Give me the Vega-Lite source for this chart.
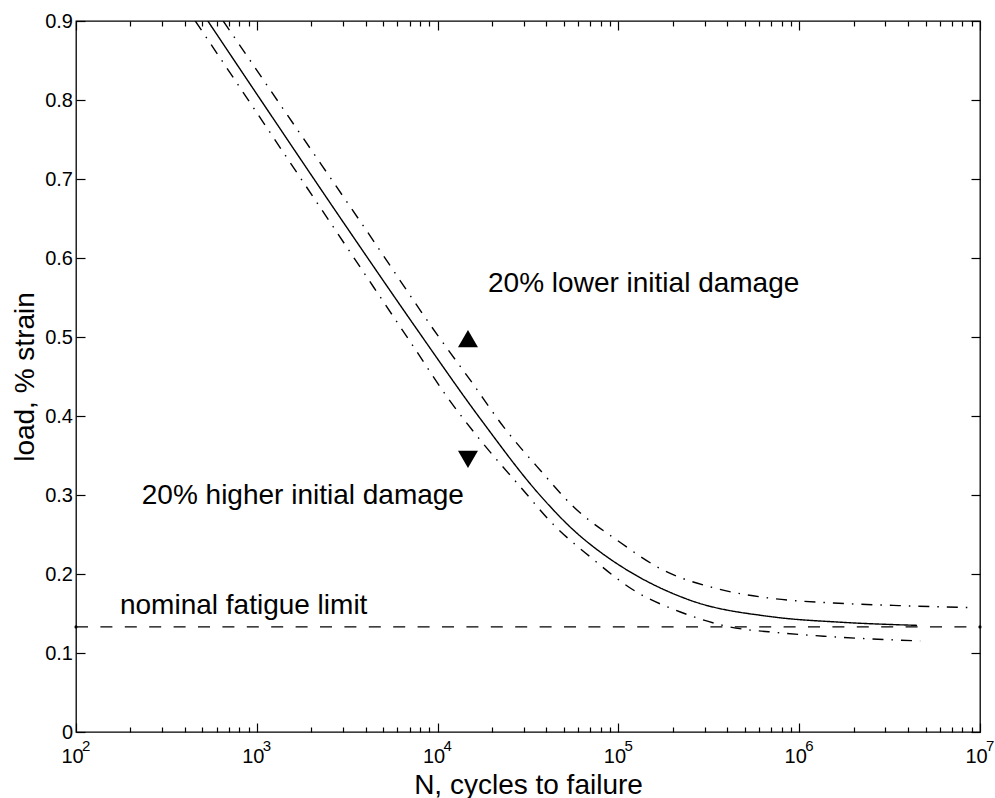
{
  "$schema": "https://vega.github.io/schema/vega-lite/v6.json",
  "width": 904,
  "height": 711,
  "autosize": "none",
  "padding": {"left": 76, "top": 21, "right": 15, "bottom": 66},
  "background": "white",
  "config": {
    "view": {"stroke": "black", "strokeWidth": 1.3},
    "font": "Liberation Sans",
    "axis": {
      "grid": false,
      "domain": false,
      "tickColor": "black",
      "tickWidth": 1.2,
      "labelColor": "black",
      "titleColor": "black",
      "labelFont": "Liberation Sans",
      "titleFont": "Liberation Sans",
      "labelFontSize": 20,
      "titleFontSize": 28,
      "titleFontWeight": "normal",
      "labelOverlap": false,
      "labelFlush": false,
      "labelBound": false
    }
  },
  "datasets": {
    "curves": [
      {"series": "nominal", "N": 536, "load": 0.9},
      {"series": "nominal", "N": 1052, "load": 0.8},
      {"series": "nominal", "N": 3162, "load": 0.638},
      {"series": "nominal", "N": 7727, "load": 0.509},
      {"series": "nominal", "N": 17298, "load": 0.396},
      {"series": "nominal", "N": 37068, "load": 0.299},
      {"series": "nominal", "N": 56624, "load": 0.2553},
      {"series": "nominal", "N": 86696, "load": 0.2215},
      {"series": "nominal", "N": 111686, "load": 0.205},
      {"series": "nominal", "N": 250035, "load": 0.1667},
      {"series": "nominal", "N": 721107, "load": 0.1456},
      {"series": "nominal", "N": 1686553, "load": 0.139},
      {"series": "nominal", "N": 4487454, "load": 0.135},
      {"series": "lower", "N": 652, "load": 0.9},
      {"series": "lower", "N": 1416, "load": 0.787},
      {"series": "lower", "N": 3981, "load": 0.637},
      {"series": "lower", "N": 10162, "load": 0.5},
      {"series": "lower", "N": 15205, "load": 0.445},
      {"series": "lower", "N": 23227, "load": 0.386},
      {"series": "lower", "N": 37068, "load": 0.331},
      {"series": "lower", "N": 56624, "load": 0.2848},
      {"series": "lower", "N": 98401, "load": 0.2427},
      {"series": "lower", "N": 177828, "load": 0.2047},
      {"series": "lower", "N": 350752, "load": 0.1815},
      {"series": "lower", "N": 721107, "load": 0.1689},
      {"series": "lower", "N": 1548817, "load": 0.1633},
      {"series": "lower", "N": 3548134, "load": 0.16},
      {"series": "lower", "N": 8810489, "load": 0.1575},
      {"series": "higher", "N": 457, "load": 0.9},
      {"series": "higher", "N": 966, "load": 0.789},
      {"series": "higher", "N": 3162, "load": 0.613},
      {"series": "higher", "N": 7396, "load": 0.487},
      {"series": "higher", "N": 11298, "load": 0.424},
      {"series": "higher", "N": 17298, "load": 0.369},
      {"series": "higher", "N": 28774, "load": 0.31},
      {"series": "higher", "N": 43954, "load": 0.262},
      {"series": "higher", "N": 69984, "load": 0.2215},
      {"series": "higher", "N": 121619, "load": 0.1794},
      {"series": "higher", "N": 220293, "load": 0.1519},
      {"series": "higher", "N": 398107, "load": 0.1338},
      {"series": "higher", "N": 785236, "load": 0.1255},
      {"series": "higher", "N": 1422329, "load": 0.121},
      {"series": "higher", "N": 4666594, "load": 0.1152}
    ],
    "limit": [{"N": 100, "N2": 10000000, "load": 0.133}],
    "limitEnds": [{"N": 100, "load": 0.133}, {"N": 10000000, "load": 0.133}],
    "arrows": [
      {"N": 14723, "load": 0.498, "dir": "up"},
      {"N": 14723, "load": 0.345, "dir": "down"}
    ],
    "labels": [
      {"N": 19011, "load": 0.557, "text": "20% lower initial damage"},
      {"N": 231, "load": 0.289, "text": "20% higher initial damage"},
      {"N": 175, "load": 0.1499, "text": "nominal fatigue limit"}
    ],
    "exponents": [
      {"N": 100, "load": 0, "exp": "2"},
      {"N": 1000, "load": 0, "exp": "3"},
      {"N": 10000, "load": 0, "exp": "4"},
      {"N": 100000, "load": 0, "exp": "5"},
      {"N": 1000000, "load": 0, "exp": "6"},
      {"N": 10000000, "load": 0, "exp": "7"}
    ]
  },
  "layer": [
    {
      "data": {"name": "curves"},
      "mark": {"type": "line", "color": "black", "strokeWidth": 1.4, "interpolate": "monotone", "clip": true},
      "encoding": {
        "x": {
          "field": "N", "type": "quantitative",
          "scale": {"type": "log", "domain": [100, 10000000], "nice": false},
          "axis": {
            "orient": "bottom",
            "title": "N, cycles to failure",
            "values": [100,200,300,400,500,600,700,800,900,1000,2000,3000,4000,5000,6000,7000,8000,9000,10000,20000,30000,40000,50000,60000,70000,80000,90000,100000,200000,300000,400000,500000,600000,700000,800000,900000,1000000,2000000,3000000,4000000,5000000,6000000,7000000,8000000,9000000,10000000],
            "labelExpr": "indexof([100,1000,10000,100000,1000000,10000000], datum.value) >= 0 ? '10' : ''",
            "tickSize": {"condition": {"test": "indexof([100,1000,10000,100000,1000000,10000000], datum.value) >= 0", "value": -9}, "value": -5},
            "labelFontSize": 20,
            "labelPadding": 23,
            "labelOffset": -4,
            "titleFontSize": 28,
            "titlePadding": 1,
            "encode": {"labels": {"update": {"fontSize": {"value": 20}}}}
          }
        },
        "y": {
          "field": "load", "type": "quantitative",
          "scale": {"domain": [0, 0.9], "nice": false, "zero": false},
          "axis": {
            "orient": "left",
            "title": "load, % strain",
            "values": [0,0.1,0.2,0.3,0.4,0.5,0.6,0.7,0.8,0.9],
            "labelExpr": "datum.value == 0 ? '0' : format(datum.value, '.1f')",
            "tickSize": -9,
            "labelFontSize": 20,
            "labelPadding": 12.5,
            "titleFontSize": 28,
            "titlePadding": 5,
            "encode": {"labels": {"update": {"fontSize": {"value": 20}}}}
          }
        },
        "detail": {"field": "series"},
        "strokeDash": {
          "field": "series", "type": "nominal",
          "scale": {"domain": ["nominal", "lower", "higher"], "range": [[1, 0], [11, 8, 1.5, 8], [11, 8, 1.5, 8]]},
          "legend": null
        }
      }
    },
    {
      "data": {"name": "limit"},
      "mark": {"type": "rule", "color": "black", "strokeWidth": 1.3, "strokeDash": [12, 12.4]},
      "encoding": {
        "x": {"field": "N", "type": "quantitative", "scale": {"type": "log", "domain": [100, 10000000], "nice": false}, "axis": null},
        "x2": {"field": "N2"},
        "y": {"field": "load", "type": "quantitative", "scale": {"domain": [0, 0.9], "nice": false, "zero": false}, "axis": null}
      }
    },
    {
      "data": {"name": "limitEnds"},
      "mark": {"type": "point", "filled": true, "color": "black", "size": 10, "opacity": 1},
      "encoding": {
        "x": {
          "field": "N", "type": "quantitative",
          "scale": {"type": "log", "domain": [100, 10000000], "nice": false},
          "axis": {
            "orient": "top",
            "title": null,
            "labels": false,
            "values": [100,200,300,400,500,600,700,800,900,1000,2000,3000,4000,5000,6000,7000,8000,9000,10000,20000,30000,40000,50000,60000,70000,80000,90000,100000,200000,300000,400000,500000,600000,700000,800000,900000,1000000,2000000,3000000,4000000,5000000,6000000,7000000,8000000,9000000,10000000],
            "tickSize": {"condition": {"test": "indexof([100,1000,10000,100000,1000000,10000000], datum.value) >= 0", "value": -9}, "value": -5}
          }
        },
        "y": {
          "field": "load", "type": "quantitative",
          "scale": {"domain": [0, 0.9], "nice": false, "zero": false},
          "axis": {
            "orient": "right",
            "title": null,
            "labels": false,
            "values": [0,0.1,0.2,0.3,0.4,0.5,0.6,0.7,0.8,0.9],
            "tickSize": -9
          }
        }
      }
    },
    {
      "data": {"name": "arrows"},
      "mark": {"type": "point", "filled": true, "color": "black", "size": 400, "opacity": 1},
      "encoding": {
        "x": {"field": "N", "type": "quantitative", "scale": {"type": "log", "domain": [100, 10000000], "nice": false}, "axis": null},
        "y": {"field": "load", "type": "quantitative", "scale": {"domain": [0, 0.9], "nice": false, "zero": false}, "axis": null},
        "shape": {"field": "dir", "type": "nominal", "scale": {"domain": ["up", "down"], "range": ["triangle-up", "triangle-down"]}, "legend": null}
      }
    },
    {
      "data": {"name": "labels"},
      "mark": {"type": "text", "align": "left", "baseline": "alphabetic", "fontSize": 28, "font": "Liberation Sans", "color": "black"},
      "encoding": {
        "x": {"field": "N", "type": "quantitative", "scale": {"type": "log", "domain": [100, 10000000], "nice": false}, "axis": null},
        "y": {"field": "load", "type": "quantitative", "scale": {"domain": [0, 0.9], "nice": false, "zero": false}, "axis": null},
        "text": {"field": "text"}
      }
    },
    {
      "data": {"name": "exponents"},
      "mark": {"type": "text", "align": "left", "baseline": "top", "fontSize": 15, "font": "Liberation Sans", "color": "black", "dx": 6, "dy": 7},
      "encoding": {
        "x": {"field": "N", "type": "quantitative", "scale": {"type": "log", "domain": [100, 10000000], "nice": false}, "axis": null},
        "y": {"field": "load", "type": "quantitative", "scale": {"domain": [0, 0.9], "nice": false, "zero": false}, "axis": null},
        "text": {"field": "exp"}
      }
    }
  ],
  "resolve": {"axis": {"x": "independent", "y": "independent"}}
}
